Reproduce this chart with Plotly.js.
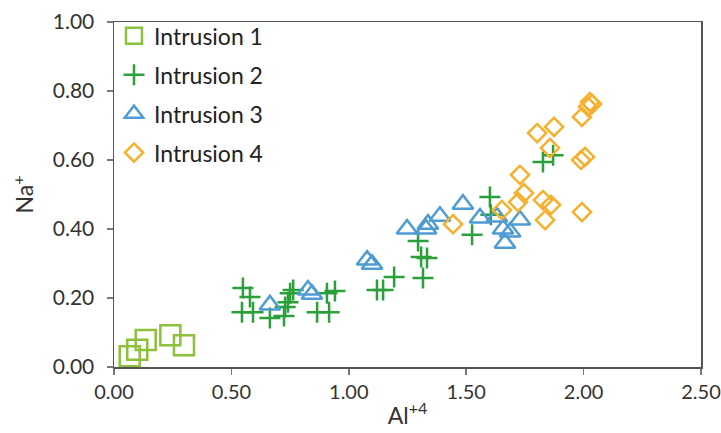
<!DOCTYPE html>
<html>
<head>
<meta charset="utf-8">
<script src="https://cdn.plot.ly/plotly-3.0.1.min.js"></script>
<style>html,body{margin:0;padding:0;background:#fff;}#chart{width:721px;height:433px;}</style>
</head>
<body>
<div id="chart"></div>
<script>
// Intrusion 1 (squares)
var int1X = [0.067, 0.099, 0.135, 0.240, 0.298];
var int1Y = [0.031, 0.050, 0.078, 0.092, 0.063];
// Intrusion 2 (crosses)
var int2X = [0.549, 0.579, 0.545, 0.592, 0.664, 0.724, 0.750, 0.763, 0.741, 0.729, 0.865, 0.916, 0.907, 0.941, 1.120, 1.146, 1.193, 1.295, 1.308, 1.333, 1.316, 1.601, 1.605, 1.525, 1.827, 1.870];
var int2Y = [0.229, 0.203, 0.159, 0.159, 0.142, 0.148, 0.214, 0.223, 0.188, 0.174, 0.159, 0.159, 0.214, 0.220, 0.223, 0.223, 0.261, 0.365, 0.319, 0.316, 0.258, 0.493, 0.441, 0.383, 0.594, 0.614];
// Intrusion 3 (triangles)
var int3X = [0.664, 0.826, 0.843, 1.078, 1.099, 1.248, 1.329, 1.337, 1.388, 1.486, 1.559, 1.631, 1.657, 1.687, 1.665, 1.729];
var int3Y = [0.180, 0.223, 0.211, 0.310, 0.298, 0.400, 0.400, 0.414, 0.437, 0.472, 0.432, 0.435, 0.400, 0.391, 0.359, 0.426];
// Intrusion 4 (diamonds)
var int4X = [1.444, 1.652, 1.721, 1.746, 1.729, 1.827, 1.861, 1.836, 1.993, 1.989, 2.006, 1.802, 1.874, 1.857, 1.993, 2.027, 2.036, 2.019];
var int4Y = [0.414, 0.455, 0.478, 0.504, 0.557, 0.484, 0.470, 0.426, 0.449, 0.600, 0.609, 0.678, 0.696, 0.635, 0.725, 0.768, 0.762, 0.754];

var names = ['Intrusion 1', 'Intrusion 2', 'Intrusion 3', 'Intrusion 4'];
var xTicks = [0, 0.5, 1.0, 1.5, 2.0, 2.5];
var yTicks = [0, 0.2, 0.4, 0.6, 0.8, 1.0];

var FONT = 'Lato, "Open Sans", sans-serif';

var traces = [
  {x: int1X, y: int1Y, name: names[0], legendgroup: 'g1', mode: 'markers', type: 'scatter',
   marker: {symbol: 'square-open', size: 20, color: '#8dc03c', line: {width: 2.5, color: '#8dc03c'}}},
  {x: int2X, y: int2Y, name: names[1], legendgroup: 'g2', mode: 'markers', type: 'scatter',
   marker: {symbol: 'cross-thin-open', size: 15, color: '#2a9f3a', line: {width: 2.5, color: '#2a9f3a'}}},
  {x: int3X, y: int3Y, name: names[2], legendgroup: 'g3', mode: 'markers', type: 'scatter',
   marker: {symbol: 'triangle-up-open', size: 18, color: '#4f9bd4', line: {width: 2.5, color: '#4f9bd4'}}},
  {x: int4X, y: int4Y, name: names[3], legendgroup: 'g4', mode: 'markers', type: 'scatter',
   marker: {symbol: 'diamond-open', size: 14, color: '#f5b02e', line: {width: 2.5, color: '#f5b02e'}}}
];

var layout = {
  width: 721, height: 433,
  margin: {l: 114, r: 20, t: 22, b: 66},
  paper_bgcolor: '#fff', plot_bgcolor: '#fff',
  font: {family: FONT, size: 20, color: '#333'},
  showlegend: true,
  legend: {x: 0.0, y: 1.022, xanchor: 'left', yanchor: 'top', bgcolor: 'rgba(0,0,0,0)',
           font: {family: FONT, size: 23, color: '#222'}, tracegroupgap: 6, itemsizing: 'trace'},
  xaxis: {range: [0, 2.5], tickvals: xTicks, tickformat: '.2f', showgrid: false, zeroline: false,
          showline: true, mirror: true, linecolor: '#555', linewidth: 1.5,
          ticks: 'outside', ticklen: 6, tickcolor: '#777', tickwidth: 1.5,
          ticklabeloverflow: 'allow',
          tickfont: {family: FONT, size: 20, color: '#333'},
          title: {text: 'Al<sup>+4</sup>', font: {family: FONT, size: 23, color: '#333'}, standoff: 6}},
  yaxis: {range: [0, 1.0], tickvals: yTicks, tickformat: '.2f', showgrid: false, zeroline: false,
          showline: true, mirror: true, linecolor: '#555', linewidth: 1.5,
          ticks: 'outside', ticklen: 6, tickcolor: '#777', tickwidth: 1.5,
          ticklabelstandoff: 8,
          tickfont: {family: FONT, size: 21, color: '#333'},
          title: {text: 'Na<sup>+</sup>', font: {family: FONT, size: 23, color: '#333'}, standoff: 12}}
};

Plotly.newPlot('chart', traces, layout, {displayModeBar: false, staticPlot: true});
</script>
</body>
</html>
